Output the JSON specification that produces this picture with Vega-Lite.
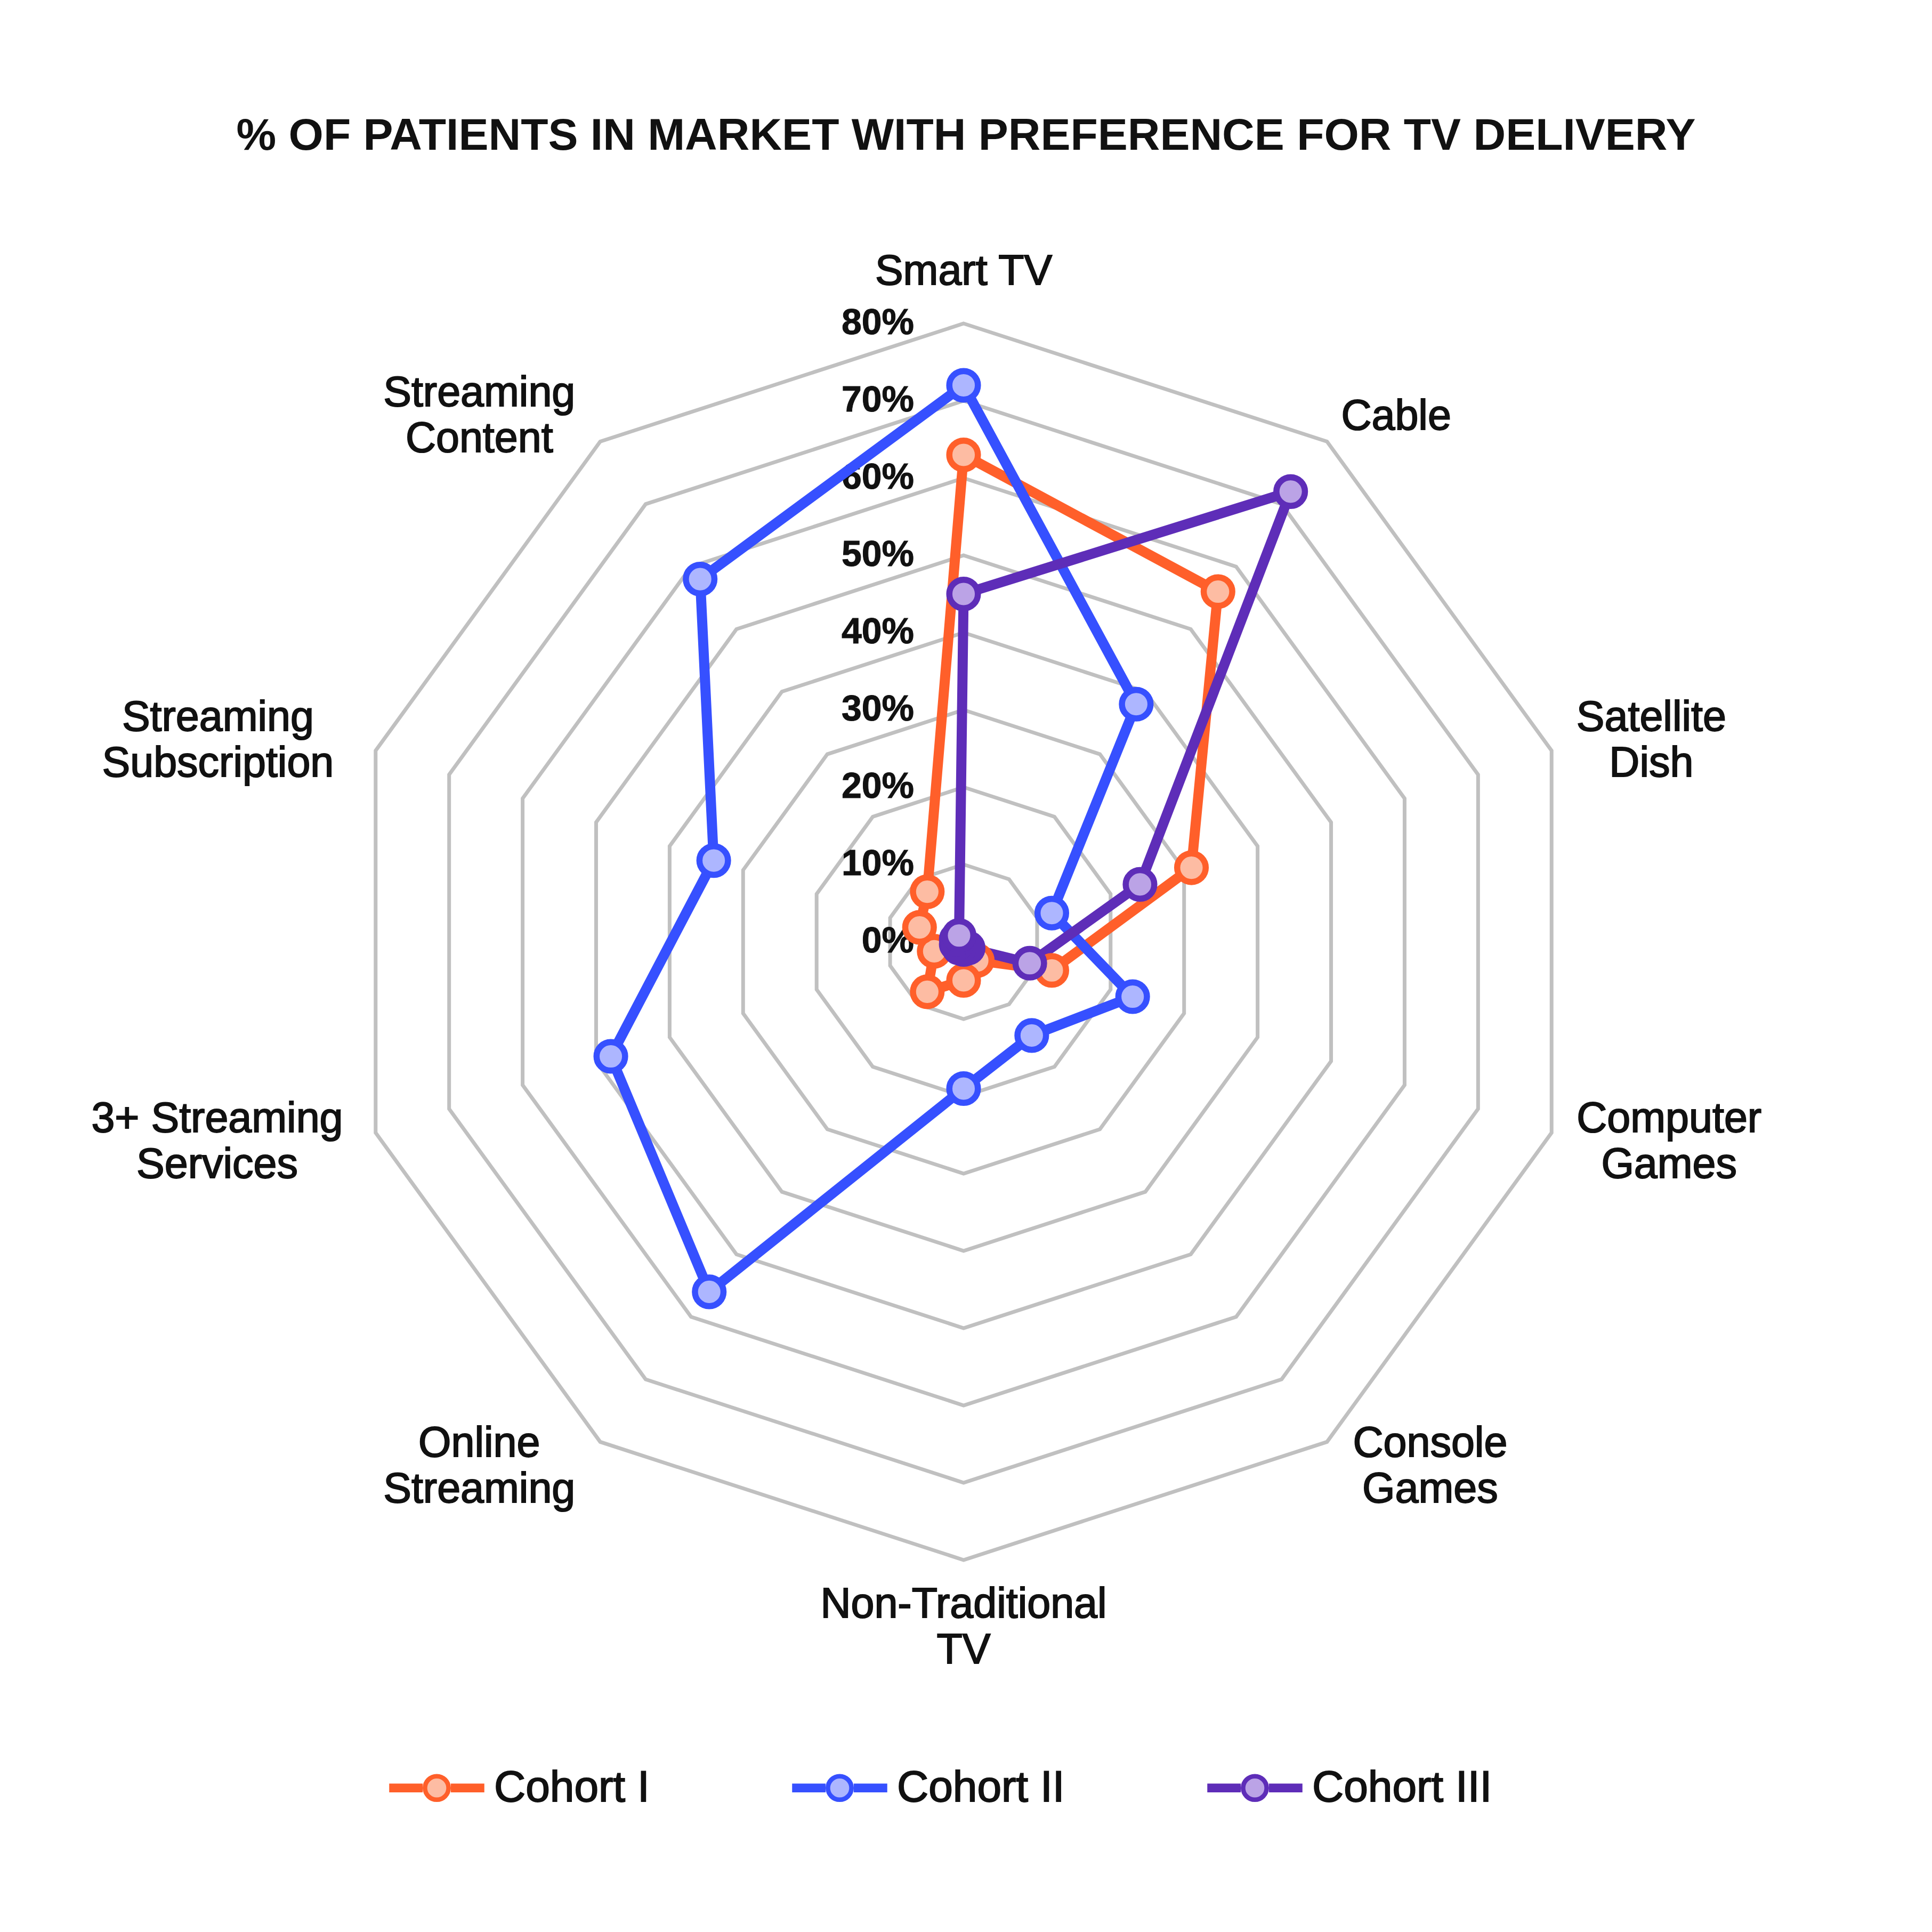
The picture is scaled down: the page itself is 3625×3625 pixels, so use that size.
{
  "$schema": "https://vega.github.io/schema/vega-lite/v6.json",
  "width": 3625,
  "height": 3625,
  "autosize": {"type": "none"},
  "padding": 0,
  "background": "white",
  "config": {
    "view": {"stroke": null},
    "font": "Liberation Sans",
    "legend": {
      "labelFont": "Liberation Sans",
      "labelFontSize": 82,
      "labelColor": "#111111",
      "labelOffset": 18,
      "labelLimit": 2000,
      "columnPadding": 254
    }
  },
  "title": {
    "text": "% OF PATIENTS IN MARKET WITH PREFERENCE FOR TV DELIVERY",
    "font": "Liberation Sans",
    "fontSize": 84,
    "fontWeight": "bold",
    "color": "#111111",
    "anchor": "middle",
    "offset": 0,
    "baseline": "alphabetic",
    "dy": 365
  },
  "datasets": {
    "scores": [
      {"cohort": "Cohort I", "category": "Smart TV", "value": 63},
      {"cohort": "Cohort I", "category": "Cable", "value": 56},
      {"cohort": "Cohort I", "category": "Satellite Dish", "value": 31},
      {"cohort": "Cohort I", "category": "Computer Games", "value": 12},
      {"cohort": "Cohort I", "category": "Console Games", "value": 3},
      {"cohort": "Cohort I", "category": "Non-Traditional TV", "value": 5},
      {"cohort": "Cohort I", "category": "Online Streaming", "value": 8},
      {"cohort": "Cohort I", "category": "3+ Streaming Services", "value": 4},
      {"cohort": "Cohort I", "category": "Streaming Subscription", "value": 6},
      {"cohort": "Cohort I", "category": "Streaming Content", "value": 8},
      {"cohort": "Cohort II", "category": "Smart TV", "value": 72},
      {"cohort": "Cohort II", "category": "Cable", "value": 38},
      {"cohort": "Cohort II", "category": "Satellite Dish", "value": 12},
      {"cohort": "Cohort II", "category": "Computer Games", "value": 23},
      {"cohort": "Cohort II", "category": "Console Games", "value": 15},
      {"cohort": "Cohort II", "category": "Non-Traditional TV", "value": 19},
      {"cohort": "Cohort II", "category": "Online Streaming", "value": 56},
      {"cohort": "Cohort II", "category": "3+ Streaming Services", "value": 48},
      {"cohort": "Cohort II", "category": "Streaming Subscription", "value": 34},
      {"cohort": "Cohort II", "category": "Streaming Content", "value": 58},
      {"cohort": "Cohort III", "category": "Smart TV", "value": 45},
      {"cohort": "Cohort III", "category": "Cable", "value": 72},
      {"cohort": "Cohort III", "category": "Satellite Dish", "value": 24},
      {"cohort": "Cohort III", "category": "Computer Games", "value": 9},
      {"cohort": "Cohort III", "category": "Console Games", "value": 1},
      {"cohort": "Cohort III", "category": "Non-Traditional TV", "value": 1},
      {"cohort": "Cohort III", "category": "Online Streaming", "value": 1},
      {"cohort": "Cohort III", "category": "3+ Streaming Services", "value": 1},
      {"cohort": "Cohort III", "category": "Streaming Subscription", "value": 1},
      {"cohort": "Cohort III", "category": "Streaming Content", "value": 1}
    ],
    "rings": [
      {"level": 10, "k": [0, 1, 2, 3, 4, 5, 6, 7, 8, 9]},
      {"level": 20, "k": [0, 1, 2, 3, 4, 5, 6, 7, 8, 9]},
      {"level": 30, "k": [0, 1, 2, 3, 4, 5, 6, 7, 8, 9]},
      {"level": 40, "k": [0, 1, 2, 3, 4, 5, 6, 7, 8, 9]},
      {"level": 50, "k": [0, 1, 2, 3, 4, 5, 6, 7, 8, 9]},
      {"level": 60, "k": [0, 1, 2, 3, 4, 5, 6, 7, 8, 9]},
      {"level": 70, "k": [0, 1, 2, 3, 4, 5, 6, 7, 8, 9]},
      {"level": 80, "k": [0, 1, 2, 3, 4, 5, 6, 7, 8, 9]}
    ],
    "ticks": [
      {"value": 0, "label": "0%"},
      {"value": 10, "label": "10%"},
      {"value": 20, "label": "20%"},
      {"value": 30, "label": "30%"},
      {"value": 40, "label": "40%"},
      {"value": 50, "label": "50%"},
      {"value": 60, "label": "60%"},
      {"value": 70, "label": "70%"},
      {"value": 80, "label": "80%"}
    ],
    "labels": [
      {"category": "Smart TV", "label": "Smart TV"},
      {"category": "Cable", "label": "Cable"},
      {"category": "Satellite Dish", "label": "Satellite\nDish"},
      {"category": "Computer Games", "label": "Computer\nGames"},
      {"category": "Console Games", "label": "Console\nGames"},
      {"category": "Non-Traditional TV", "label": "Non-Traditional\nTV"},
      {"category": "Online Streaming", "label": "Online\nStreaming"},
      {"category": "3+ Streaming Services", "label": "3+ Streaming\nServices"},
      {"category": "Streaming Subscription", "label": "Streaming\nSubscription"},
      {"category": "Streaming Content", "label": "Streaming\nContent"}
    ]
  },
  "layer": [
    {
      "data": {"name": "rings"},
      "transform": [
        {"flatten": ["k"]},
        {"calculate": "datum.k * PI / 5", "as": "a"},
        {"calculate": "datum.level * sin(datum.a)", "as": "x"},
        {"calculate": "datum.level * cos(datum.a)", "as": "y"}
      ],
      "mark": {"type": "line", "interpolate": "linear-closed", "stroke": "#c0c0c0", "strokeWidth": 7, "strokeJoin": "miter"},
      "encoding": {
        "x": {"field": "x", "type": "quantitative", "scale": {"domain": [-124.69, 125.31], "nice": false, "zero": false}, "axis": null},
        "y": {"field": "y", "type": "quantitative", "scale": {"domain": [-128.14, 121.86], "nice": false, "zero": false}, "axis": null},
        "detail": {"field": "level", "type": "nominal"},
        "order": {"field": "k", "type": "quantitative"}
      }
    },
    {
      "data": {"name": "ticks"},
      "mark": {"type": "text", "align": "right", "baseline": "middle", "dx": -93, "fontSize": 68, "fontWeight": "bold", "font": "Liberation Sans", "color": "#111111", "stroke": "#111111", "strokeWidth": 1},
      "encoding": {
        "x": {"datum": 0, "type": "quantitative", "scale": {"domain": [-124.69, 125.31], "nice": false, "zero": false}, "axis": null},
        "y": {"field": "value", "type": "quantitative", "scale": {"domain": [-128.14, 121.86], "nice": false, "zero": false}, "axis": null},
        "text": {"field": "label", "type": "nominal"}
      }
    },
    {
      "data": {"name": "scores"},
      "transform": [
        {"calculate": "indexof(['Smart TV','Cable','Satellite Dish','Computer Games','Console Games','Non-Traditional TV','Online Streaming','3+ Streaming Services','Streaming Subscription','Streaming Content'], datum.category)", "as": "idx"},
        {"calculate": "datum.idx * PI / 5", "as": "a"},
        {"calculate": "datum.value * sin(datum.a)", "as": "x"},
        {"calculate": "datum.value * cos(datum.a)", "as": "y"}
      ],
      "mark": {"type": "line", "interpolate": "linear-closed", "strokeWidth": 19, "strokeJoin": "round"},
      "encoding": {
        "x": {"field": "x", "type": "quantitative", "scale": {"domain": [-124.69, 125.31], "nice": false, "zero": false}, "axis": null},
        "y": {"field": "y", "type": "quantitative", "scale": {"domain": [-128.14, 121.86], "nice": false, "zero": false}, "axis": null},
        "stroke": {"field": "cohort", "type": "nominal", "scale": {"domain": ["Cohort I", "Cohort II", "Cohort III"], "range": ["#ff5f2a", "#3650ff", "#5e2db8"]}},
        "order": {"field": "idx", "type": "quantitative"}
      }
    },
    {
      "data": {"name": "scores"},
      "transform": [
        {"calculate": "indexof(['Smart TV','Cable','Satellite Dish','Computer Games','Console Games','Non-Traditional TV','Online Streaming','3+ Streaming Services','Streaming Subscription','Streaming Content'], datum.category)", "as": "idx"},
        {"calculate": "datum.idx * PI / 5", "as": "a"},
        {"calculate": "datum.value * sin(datum.a)", "as": "x"},
        {"calculate": "datum.value * cos(datum.a)", "as": "y"}
      ],
      "mark": {"type": "circle", "size": 2875, "strokeWidth": 11.5, "opacity": 1},
      "encoding": {
        "x": {"field": "x", "type": "quantitative", "scale": {"domain": [-124.69, 125.31], "nice": false, "zero": false}, "axis": null},
        "y": {"field": "y", "type": "quantitative", "scale": {"domain": [-128.14, 121.86], "nice": false, "zero": false}, "axis": null},
        "stroke": {
          "field": "cohort", "type": "nominal",
          "scale": {"domain": ["Cohort I", "Cohort II", "Cohort III"], "range": ["#ff5f2a", "#3650ff", "#5e2db8"]},
          "legend": {
            "orient": "none", "legendX": 730, "legendY": 3265, "direction": "horizontal", "title": null,
            "symbolType": "M-1,-0.047H-0.36V0.047H-1Z M0.36,-0.047H1V0.047H0.36Z M0.26,0A0.26,0.26,0,1,1,-0.26,0A0.26,0.26,0,1,1,0.26,0Z",
            "symbolSize": 28900, "symbolStrokeWidth": 8.5, "symbolOpacity": 1,
            "labelFontSize": 82, "labelOffset": 18, "labelLimit": 2000, "columnPadding": 254,
            "encode": {"labels": {"update": {"stroke": {"value": "#111111"}, "strokeWidth": {"value": 2}}}}
          }
        },
        "fill": {
          "field": "cohort", "type": "nominal",
          "scale": {"domain": ["Cohort I", "Cohort II", "Cohort III"], "range": ["#fdbca3", "#adb6ff", "#bba3e6"]},
          "legend": {
            "orient": "none", "legendX": 730, "legendY": 3265, "direction": "horizontal", "title": null,
            "symbolType": "M-1,-0.047H-0.36V0.047H-1Z M0.36,-0.047H1V0.047H0.36Z M0.26,0A0.26,0.26,0,1,1,-0.26,0A0.26,0.26,0,1,1,0.26,0Z",
            "symbolSize": 28900, "symbolStrokeWidth": 8.5, "symbolOpacity": 1,
            "labelFontSize": 82, "labelOffset": 18, "labelLimit": 2000, "columnPadding": 254,
            "encode": {"labels": {"update": {"stroke": {"value": "#111111"}, "strokeWidth": {"value": 2}}}}
          }
        }
      }
    },
    {
      "data": {"name": "labels"},
      "transform": [
        {"calculate": "indexof(['Smart TV','Cable','Satellite Dish','Computer Games','Console Games','Non-Traditional TV','Online Streaming','3+ Streaming Services','Streaming Subscription','Streaming Content'], datum.category)", "as": "idx"},
        {"calculate": "datum.idx * PI / 5", "as": "a"},
        {"calculate": "[0, 6.6, 9.1, 11.4, 11.0, 0, 13.3, 16.7, 16.6, 13.3][datum.idx]", "as": "hw"},
        {"calculate": "indexof(datum.label, '\\n') >= 0 ? 3.0 : 0", "as": "ml"},
        {"calculate": "84 * sin(datum.a) + (sin(datum.a) > 0.1 ? 1 : (sin(datum.a) < -0.1 ? -1 : 0)) * datum.hw", "as": "x"},
        {"calculate": "84 * cos(datum.a) + datum.ml + (cos(datum.a) > 0.99 ? 2.7 : (cos(datum.a) < -0.99 ? -4.8 : 0))", "as": "y"}
      ],
      "mark": {"type": "text", "align": "center", "baseline": "middle", "lineBreak": "\n", "lineHeight": 86, "fontSize": 79, "font": "Liberation Sans", "color": "#111111", "stroke": "#111111", "strokeWidth": 2},
      "encoding": {
        "x": {"field": "x", "type": "quantitative", "scale": {"domain": [-124.69, 125.31], "nice": false, "zero": false}, "axis": null},
        "y": {"field": "y", "type": "quantitative", "scale": {"domain": [-128.14, 121.86], "nice": false, "zero": false}, "axis": null},
        "text": {"field": "label", "type": "nominal"}
      }
    }
  ]
}
